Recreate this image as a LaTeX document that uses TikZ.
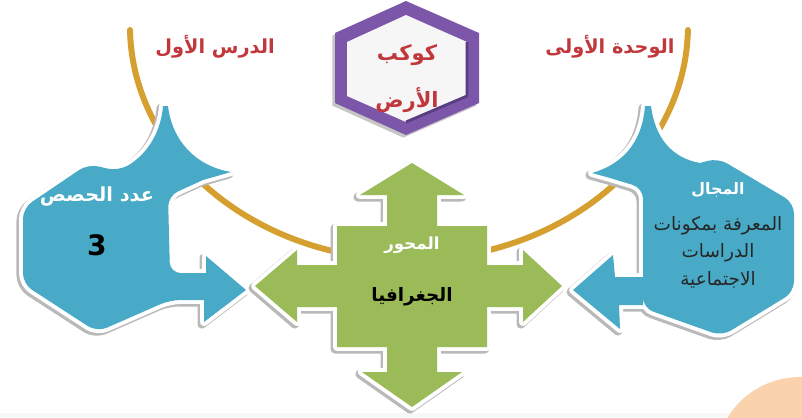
\documentclass[tikz,border=0pt]{standalone}
\usepackage{fontspec}
\usepackage{tikz}
\usetikzlibrary{calc}
\TeXXeTstate=1
\newfontfamily\arabicfont[Script=Arabic]{DejaVu Sans}
\definecolor{arcdore}{RGB}{214,160,48}
\definecolor{bleuforme}{RGB}{72,170,198}
\definecolor{vertcroix}{RGB}{155,187,89}
\definecolor{violethex}{RGB}{124,86,168}
\definecolor{violetfonce}{RGB}{90,60,128}
\definecolor{rougetitre}{RGB}{192,55,60}
\definecolor{peche}{RGB}{250,210,172}
\tikzset{
  forme/.style={preaction={draw=gray!55,line width=5pt,line join=round,transform canvas={xshift=-1.2pt,yshift=-1.2pt}},
                preaction={draw=white,line width=4.5pt,line join=round}},
  ombrehex/.style={preaction={fill=gray!45,transform canvas={xshift=-1.5pt,yshift=-1.5pt}}},
  titre/.style={text=rougetitre,font=\arabicfont\bfseries\fontsize{11}{13}\selectfont},
  blanc/.style={text=white,font=\arabicfont\bfseries\fontsize{11}{13}\selectfont},
  noir/.style={text=black,font=\arabicfont\bfseries\fontsize{10.5}{12}\selectfont},
  corps/.style={text=black!85,font=\arabicfont\fontsize{10.5}{12}\selectfont}
}
\begin{document}
\begin{tikzpicture}[x=0.02cm,y=-0.02cm]
\useasboundingbox (0,0) rectangle (802,417);
\fill[gray!6] (0,413) rectangle (802,417);
\begin{scope}
\clip (0,0) rectangle (802,417);
\fill[peche] (800,462) circle[radius=85];
\end{scope}
% Arc
\draw[arcdore,line width=3.4pt,line cap=round] (130,30) arc[start angle=179,end angle=1,x radius=279,y radius=234];
% Formes bleues
\fill[bleuforme,forme] (23,208) [rounded corners=6pt] -- (88,164) -- (118,171) [sharp corners]
  .. controls (138,160) and (160,142) .. (163,106) -- (168,106)
  .. controls (172,140) and (195,166) .. (231,172) -- (203,180) [rounded corners=6pt] -- (168,196)
  -- (170,273) [sharp corners] -- (206,273) -- (206,256) -- (246,290) -- (204,322) -- (204,300)
  [rounded corners=6pt] -- (170,300) -- (97,332) -- (23,284) -- cycle;
\fill[bleuforme,forme] (645,106) -- (651,106) .. controls (655,138) and (672,158) .. (700,163)
  [rounded corners=6pt] -- (718,158) -- (794,203) -- (794,292) -- (722,336) -- (643,308)
  [sharp corners] -- (643,305) -- (619,305) -- (620,329) -- (573,290) -- (613,255) -- (615,277)
  -- (643,277) [rounded corners=6pt] -- (643,188) [sharp corners] -- (610,178) -- (592,173)
  .. controls (620,165) and (642,145) .. (645,106) -- cycle;
% Croix
\fill[vertcroix,forme] (337,226) -- (387,226) -- (387,195) -- (360,195) -- (412,163) -- (464,195)
  -- (437,195) -- (437,226) -- (487,226) -- (487,265) -- (523,265) -- (523,250) -- (562,286)
  -- (523,322) -- (523,307) -- (487,307) -- (487,347) -- (437,347) -- (437,372) -- (462,372)
  -- (412,407) -- (362,372) -- (387,372) -- (387,347) -- (337,347) -- (337,307) -- (297,307)
  -- (297,322) -- (255,286) -- (297,250) -- (297,265) -- (337,265) -- cycle;
% Hexagone
\fill[violethex,ombrehex] (406,1) -- (479,33) -- (479,103) -- (406,135) -- (335,103) -- (335,33) -- cycle;
\fill[gray!7] (406,15) -- (467,42) -- (467,96) -- (406,122) -- (347,96) -- (347,42) -- cycle;
\draw[violetfonce,line width=1.6pt,line join=round] (467,42) -- (467,96) -- (406,122);
% Textes
\node[titre] (lecon) at (215,47) {\beginR الدرس الأول\endR};
\node[titre] (unite) at (610,47) {\beginR الوحدة الأولى\endR};
\node[titre,font=\arabicfont\bfseries\fontsize{12}{14}\selectfont] (kawkab) at (407,55) {\beginR كوكب\endR};
\node[titre,font=\arabicfont\bfseries\fontsize{12}{14}\selectfont] (ard) at (407,100) {\beginR الأرض\endR};
\node[blanc] (hisas) at (97,197) {\beginR عدد الحصص\endR};
\node[noir,font=\arabicfont\bfseries\fontsize{16}{18}\selectfont] (trois) at (97,245) {3};
\node[blanc,font=\arabicfont\bfseries\fontsize{9}{11}\selectfont] (majal) at (718,190) {\beginR المجال\endR};
\node[corps] (maarifa) at (718,226) {\beginR المعرفة بمكونات\endR};
\node[corps] (dirasat) at (718,253) {\beginR الدراسات\endR};
\node[corps] (ijtima) at (718,280) {\beginR الاجتماعية\endR};
\node[blanc,font=\arabicfont\bfseries\fontsize{9.5}{11}\selectfont] (mihwar) at (412,245) {\beginR المحور\endR};
\node[noir] (jughrafia) at (412,297) {\beginR الجغرافيا\endR};
\end{tikzpicture}
\end{document}
